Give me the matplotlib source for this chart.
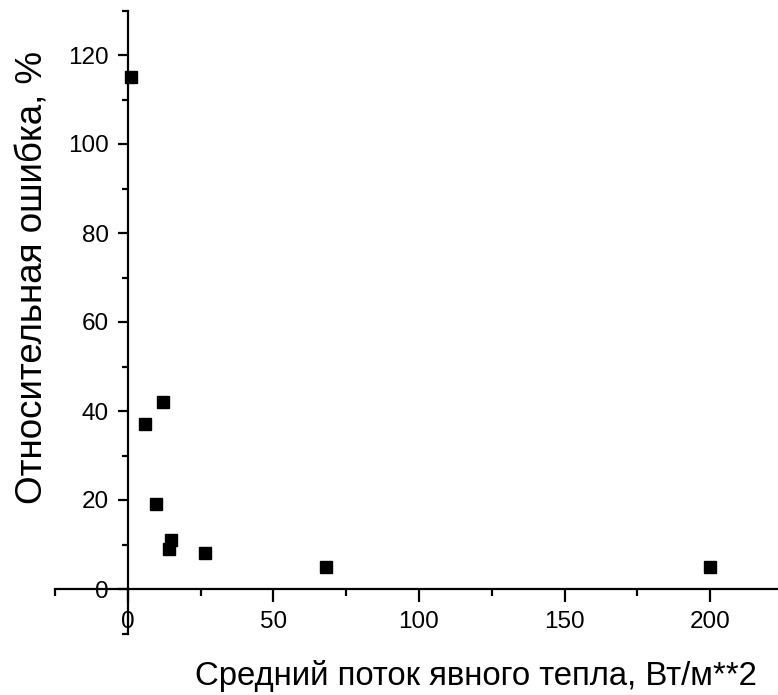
import matplotlib
matplotlib.use("Agg")
import matplotlib.pyplot as plt
from matplotlib.ticker import MultipleLocator

heat_flux = [1, 5.8, 12, 9.6, 15, 14, 26.6, 68, 200]
rel_error = [115, 37, 42, 19, 11, 9, 8, 5, 5]

x_label = "Средний поток явного тепла, Вт/м**2"
y_label = "Относительная ошибка, %"

W, H = 778, 695
fig = plt.figure(figsize=(W / 100, H / 100), dpi=100)
left, right = 55 / W, 783 / W
bottom, top = 1 - 633.5 / H, 1 - 10.5 / H
ax = fig.add_axes([left, bottom, right - left, top - bottom])

ax.plot(heat_flux, rel_error, linestyle="none", marker="s", markersize=8,
        color="black", clip_on=False)

ax.set_xlim(-25, 225)
ax.set_ylim(-10, 130)
ax.spines["left"].set_position(("data", 0))
ax.spines["bottom"].set_position(("data", 0))
ax.spines["top"].set_visible(False)
ax.spines["right"].set_visible(False)
for s in ("left", "bottom"):
    ax.spines[s].set_linewidth(1.6)

ax.set_xticks([0, 50, 100, 150, 200])
ax.set_yticks([0, 20, 40, 60, 80, 100, 120])
ax.set_xticks([-25, 25, 75, 125, 175, 225], minor=True)
ax.set_yticks([-10, 10, 30, 50, 70, 90, 110, 130], minor=True)

tick_font = "Liberation Sans"
ax.tick_params(axis="x", which="major", direction="out", length=9, width=1.6,
               pad=7, labelsize=17.5)
ax.tick_params(axis="x", which="minor", direction="out", length=5, width=1.6)
ax.tick_params(axis="y", which="major", direction="out", length=7.5, width=1.6,
               pad=6, labelsize=17.5)
ax.tick_params(axis="y", which="minor", direction="out", length=4, width=1.6)
for lab in ax.get_xticklabels() + ax.get_yticklabels():
    lab.set_family(tick_font)

xt = fig.text(476 / W, 1 - 685 / H, x_label, ha="center", va="baseline",
              fontsize=24, family="Liberation Sans")
yt = fig.text(33 / W, 1 - 277 / H, y_label, ha="center", va="center", rotation=90,
              fontsize=26.5, family="Liberation Sans")

# fit the x label to the reference width
fig.canvas.draw()
r = fig.canvas.get_renderer()
wpx = xt.get_window_extent(r).width
xt.set_fontsize(24 * 563 / wpx)

fig.savefig("out.png", dpi=100)
